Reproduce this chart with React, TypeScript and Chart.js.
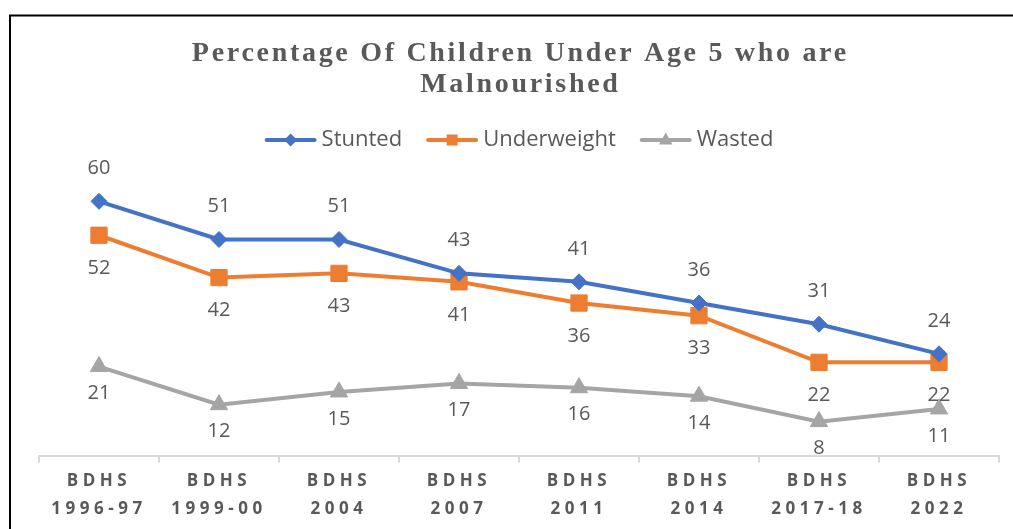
import React, { useEffect, useRef } from "react";
import { Chart, registerables } from "chart.js";

Chart.register(...registerables);

const categories: string[][] = [
  ["BDHS", "1996-97"],
  ["BDHS", "1999-00"],
  ["BDHS", "2004"],
  ["BDHS", "2007"],
  ["BDHS", "2011"],
  ["BDHS", "2014"],
  ["BDHS", "2017-18"],
  ["BDHS", "2022"],
];
const stunted = [60, 51, 51, 43, 41, 36, 31, 24];
const underweight = [52, 42, 43, 41, 36, 33, 22, 22];
const wasted = [21, 12, 15, 17, 16, 14, 8, 11];
const titleLines = ["Percentage Of Children Under Age 5 who are", "Malnourished"];
const seriesNames = ["Stunted", "Underweight", "Wasted"];
const seriesColors = ["#4472C4", "#ED7D31", "#A5A5A5"];
const yMin = 0;
const yMax = 70;

const TEXT = "#595959";

function drawMarker(ctx: CanvasRenderingContext2D, kind: number, x: number, y: number, s: number) {
  ctx.beginPath();
  if (kind === 0) {
    ctx.moveTo(x - s, y);
    ctx.lineTo(x, y - s);
    ctx.lineTo(x + s, y);
    ctx.lineTo(x, y + s);
    ctx.closePath();
  } else if (kind === 1) {
    ctx.rect(x - s, y - s, 2 * s, 2 * s);
  } else {
    ctx.moveTo(x, y - s);
    ctx.lineTo(x + s * 0.9, y + s * 0.6);
    ctx.lineTo(x - s * 0.9, y + s * 0.6);
    ctx.closePath();
  }
  ctx.fill();
}

const customPlugin = {
  id: "custom",
  beforeDraw(chart: any) {
    const ctx = chart.ctx as CanvasRenderingContext2D;
    ctx.save();
    ctx.strokeStyle = "#000";
    ctx.lineWidth = 2;
    ctx.beginPath();
    ctx.moveTo(10, chart.height + 5);
    ctx.lineTo(10, 15.5);
    ctx.lineTo(chart.width + 5, 15.5);
    ctx.stroke();
    ctx.restore();
    (ctx as any).letterSpacing = "4.5px";
  },
  afterDraw(chart: any) {
    const ctx = chart.ctx as CanvasRenderingContext2D;
    const area = chart.chartArea;
    const cx = (area.left + area.right) / 2;
    ctx.save();
    // title
    (ctx as any).letterSpacing = "2.7px";
    ctx.fillStyle = TEXT;
    ctx.font = 'bold 28px "Liberation Serif"';
    ctx.textAlign = "center";
    ctx.textBaseline = "alphabetic";
    ctx.fillText(titleLines[0], cx + 1.35, 61);
    ctx.fillText(titleLines[1], cx + 1.35, 92);

    (ctx as any).letterSpacing = "0px";
    // data labels
    ctx.font = '20px "Open Sans"';
    ctx.textBaseline = "middle";
    const offsets = [-33, 33, 27];
    chart.data.datasets.forEach((ds: any, di: number) => {
      const meta = chart.getDatasetMeta(di);
      meta.data.forEach((pt: any, i: number) => {
        ctx.fillText(String(ds.data[i]), pt.x, pt.y + offsets[di]);
      });
    });

    // legend
    ctx.font = '22px "Open Sans"';
    ctx.textAlign = "left";
    const lineLen = 52;
    const gapText = 5;
    const gapItem = 24;
    const widths = seriesNames.map((n) => ctx.measureText(n).width);
    const total = widths.reduce((a, b) => a + b, 0) + 3 * (lineLen + gapText) + 2 * gapItem;
    let x = cx - total / 2;
    const ly = 140;
    const markerSizes = [6.5, 5.5, 7.5];
    seriesNames.forEach((name, i) => {
      ctx.strokeStyle = seriesColors[i];
      ctx.fillStyle = seriesColors[i];
      ctx.lineWidth = 4;
      ctx.lineCap = "round";
      ctx.beginPath();
      ctx.moveTo(x + 2, ly);
      ctx.lineTo(x + lineLen - 2, ly);
      ctx.stroke();
      drawMarker(ctx, i, x + lineLen / 2, ly, markerSizes[i]);
      ctx.fillStyle = TEXT;
      ctx.fillText(name, x + lineLen + gapText, ly);
      x += lineLen + gapText + widths[i] + gapItem;
    });
    ctx.restore();
  },
};

export default function App() {
  const ref = useRef<HTMLCanvasElement>(null);
  useEffect(() => {
    if (!ref.current) return;
    const mk = (label: string, data: number[], i: number, style: string, r: number) => ({
      label,
      data,
      borderColor: seriesColors[i],
      backgroundColor: seriesColors[i],
      borderWidth: 4,
      pointStyle: style,
      pointRadius: r,
      pointHoverRadius: r,
      pointBorderWidth: 1,
      pointBorderColor: seriesColors[i],
      pointBackgroundColor: seriesColors[i],
      tension: 0,
    });
    const chart = new Chart(ref.current, {
      type: "line",
      data: {
        labels: categories,
        datasets: [
          mk(seriesNames[0], stunted, 0, "rectRot", 8),
          mk(seriesNames[1], underweight, 1, "rect", 11.5),
          mk(seriesNames[2], wasted, 2, "triangle", 10),
        ],
      },
      options: {
        animation: false,
        responsive: false,
        devicePixelRatio: 1,
        layout: { padding: { left: 39, right: 14, top: 159, bottom: 0.5 } },
        plugins: {
          legend: { display: false },
          title: { display: false },
          tooltip: { enabled: false },
        },
        scales: {
          x: {
            type: "category",
            offset: true,
            grid: {
              display: true,
              offset: true,
              drawOnChartArea: false,
              drawTicks: true,
              tickLength: 7,
              color: "#d9d9d9",
              lineWidth: 2,
            },
            border: { display: true, color: "#d9d9d9", width: 2 },
            ticks: {
              color: TEXT,
              font: { family: "Open Sans", size: 17, weight: "bold", lineHeight: 28 / 17 },
              padding: 5,
              maxRotation: 0,
              minRotation: 0,
              autoSkip: false,
            },
          },
          y: { display: false, min: yMin, max: yMax },
        },
      },
      plugins: [customPlugin],
    } as any);
    return () => chart.destroy();
  }, []);
  return (
    <div style={{ position: "fixed", left: 0, top: 0, width: 1013, height: 529, background: "#fff" }}>
      <canvas ref={ref} width={1013} height={529} style={{ display: "block" }} />
    </div>
  );
}
